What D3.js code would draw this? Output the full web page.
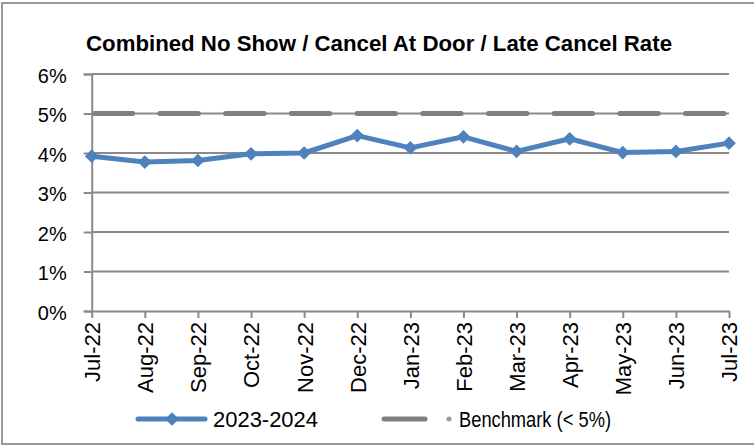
<!DOCTYPE html>
<html>
<head>
<meta charset="utf-8">
<script src="https://cdn.jsdelivr.net/npm/d3@7"></script>
<style>
  body { margin: 0; background: #fff; }
  text { font-family: "Liberation Sans", Arial, sans-serif; }
</style>
</head>
<body>
<svg id="chart" width="754" height="445"></svg>
<script>
// Chart data
const months = ["Jul-22", "Aug-22", "Sep-22", "Oct-22", "Nov-22", "Dec-22", "Jan-23",
                "Feb-23", "Mar-23", "Apr-23", "May-23", "Jun-23", "Jul-23"];
const rate = [3.92, 3.77, 3.81, 3.98, 4.00, 4.44, 4.13, 4.41, 4.04, 4.36, 4.01, 4.04, 4.25];
const benchmark = [5, 5, 5, 5, 5, 5, 5, 5, 5, 5, 5, 5, 5];
const yTicks = [0, 1, 2, 3, 4, 5, 6];
const seriesNames = ["2023-2024", "Benchmark (< 5%)"];

const dimensions = {
    width: 754,
    height: 445,
    plot: { left: 91.7, right: 729, top: 74, bottom: 311 },
};

const blue = "#4F81BD";
const grey = "#808080";
const gridGrey = "#8a8a8a";

const svg = d3.select("#chart");

// outer frame
svg.append("rect")
    .attr("x", 2).attr("y", 3)
    .attr("width", 770).attr("height", 441)
    .attr("fill", "none")
    .attr("stroke", "#999")
    .attr("stroke-width", 2);

// Title
svg.append("text")
    .attr("x", 86)
    .attr("y", 51)
    .attr("textLength", 586)
    .attr("lengthAdjust", "spacingAndGlyphs")
    .style("font-size", "22px")
    .style("font-weight", "bold")
    .text("Combined No Show / Cancel At Door / Late Cancel Rate");

// Scales
const xScale = d3.scalePoint()
    .domain(months)
    .range([dimensions.plot.left, dimensions.plot.right]);

const yScale = d3.scaleLinear()
    .domain([0, 6])
    .range([dimensions.plot.bottom, dimensions.plot.top]);

// Gridlines + y axis
const yAxis = svg.append("g")
    .attr("transform", `translate(${dimensions.plot.left},0)`)
    .call(d3.axisLeft(yScale).tickValues(yTicks).tickFormat(d => d + "%").tickSize(8).tickPadding(17));
yAxis.select(".domain").attr("stroke", gridGrey).attr("stroke-width", 2);
yAxis.selectAll(".tick line").attr("stroke", gridGrey).attr("stroke-width", 2);
yAxis.selectAll(".tick text")
    .style("font-size", "20px")
    .style("font-family", "Liberation Sans, Arial, sans-serif")
    .attr("fill", "#000")
    .attr("dy", "0.42em");

svg.append("g")
    .selectAll("line")
    .data(yTicks.filter(d => d > 0))
    .join("line")
    .attr("x1", dimensions.plot.left)
    .attr("x2", dimensions.plot.right)
    .attr("y1", d => yScale(d))
    .attr("y2", d => yScale(d))
    .attr("stroke", gridGrey)
    .attr("stroke-width", 2);

// X axis
const xAxis = svg.append("g")
    .attr("transform", `translate(0,${dimensions.plot.bottom})`)
    .call(d3.axisBottom(xScale).tickSize(7).tickSizeOuter(0));
xAxis.select(".domain").attr("stroke", gridGrey).attr("stroke-width", 2);
xAxis.selectAll(".tick line").attr("stroke", gridGrey).attr("stroke-width", 2);
xAxis.selectAll(".tick text")
    .style("font-size", "22px")
    .style("font-family", "Liberation Sans, Arial, sans-serif")
    .attr("fill", "#000")
    .attr("text-anchor", "end")
    .attr("transform", "rotate(-90)")
    .attr("x", -11)
    .attr("y", 0)
    .attr("dy", "0.36em");

// Benchmark line
const line = d3.line()
    .x((d, i) => xScale(months[i]))
    .y(d => yScale(d));

svg.append("path")
    .datum(benchmark)
    .attr("d", line)
    .attr("fill", "none")
    .attr("stroke", grey)
    .attr("stroke-width", 5)
    .attr("stroke-linecap", "round")
    .attr("stroke-dasharray", "38.5,27.2")
    .attr("stroke-dashoffset", 63.2);

// Rate line
svg.append("path")
    .datum(rate)
    .attr("d", line)
    .attr("fill", "none")
    .attr("stroke", blue)
    .attr("stroke-width", 5)
    .attr("stroke-linejoin", "round");

const diamond = d3.symbol().type(d3.symbolDiamond2).size(120);

svg.append("g")
    .selectAll("path")
    .data(rate)
    .join("path")
    .attr("d", diamond)
    .attr("transform", (d, i) => `translate(${xScale(months[i])},${yScale(d)})`)
    .attr("fill", blue);

// Legend
const legend = svg.append("g");
legend.append("line")
    .attr("x1", 138).attr("x2", 205)
    .attr("y1", 419).attr("y2", 419)
    .attr("stroke", blue)
    .attr("stroke-width", 5)
    .attr("stroke-linecap", "round");
legend.append("path")
    .attr("d", diamond)
    .attr("transform", "translate(172,419)")
    .attr("fill", blue);
legend.append("text")
    .attr("x", 213)
    .attr("y", 427)
    .attr("textLength", 105)
    .attr("lengthAdjust", "spacingAndGlyphs")
    .style("font-size", "22px")
    .text(seriesNames[0]);

legend.append("line")
    .attr("x1", 384).attr("x2", 425)
    .attr("y1", 419).attr("y2", 419)
    .attr("stroke", grey)
    .attr("stroke-width", 5)
    .attr("stroke-linecap", "round");
legend.append("circle")
    .attr("cx", 449).attr("cy", 419)
    .attr("r", 2.5)
    .attr("fill", "#9a9a9a");
legend.append("text")
    .attr("x", 459)
    .attr("y", 427)
    .attr("textLength", 152)
    .attr("lengthAdjust", "spacingAndGlyphs")
    .style("font-size", "22px")
    .text(seriesNames[1]);
</script>
</body>
</html>
